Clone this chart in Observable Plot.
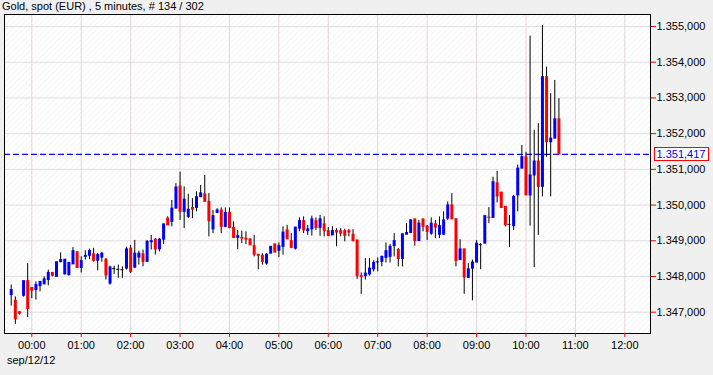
<!DOCTYPE html>
<html><head><meta charset="utf-8">
<script src="https://cdn.jsdelivr.net/npm/d3@7"></script>
<script src="https://cdn.jsdelivr.net/npm/@observablehq/plot@0.6"></script>
<style>
body{margin:0;background:#f0f0f0;}
#wrap{position:relative;width:713px;height:375px;overflow:hidden;font-family:"Liberation Sans",Arial,sans-serif;}
#wrap svg{position:absolute;left:0;top:0;}
.lbl{position:absolute;font-size:11px;line-height:13px;color:#000;white-space:nowrap;z-index:2;}
</style></head><body>
<div id="wrap"><div class="lbl" id="title" style="left:2px;top:-0.5px">Gold, spot (EUR) , 5 minutes, # 134 / 302</div><div class="lbl" id="date" style="left:7px;top:353.5px">sep/12/12</div></div>
<script>
// ---- data (5-minute candles, first at 23:35 on sep/11/12) ----
const firstCandle = "2012-09-11T23:35:00Z";
const stepMinutes = 5;
const open = [1.34748,1.34732,1.34700,1.34746,1.34787,1.34768,1.34762,1.34773,1.34778,1.34790,
1.34810,1.34799,1.34840,1.34806,1.34804,1.34834,1.34868,1.34824,1.34855,1.34858,
1.34862,1.34844,1.34853,1.34847,1.34780,1.34822,1.34820,1.34819,1.34822,1.34878,
1.34825,1.34853,1.34862,1.34841,1.34896,1.34903,1.34876,1.34903,1.34962,1.34953,
1.34990,1.35052,1.34981,1.34967,1.34992,1.34992,1.35022,1.35030,1.35009,1.34932,
1.34978,1.34985,1.34939,1.34978,1.34936,1.34908,1.34908,1.34906,1.34904,1.34885,
1.34861,1.34858,1.34836,1.34864,1.34890,1.34872,1.34883,1.34929,1.34899,1.34878,
1.34934,1.34955,1.34927,1.34932,1.34955,1.34936,1.34946,1.34927,1.34915,1.34927,
1.34927,1.34927,1.34927,1.34917,1.34901,1.34801,1.34801,1.34806,1.34820,1.34841,
1.34841,1.34852,1.34855,1.34885,1.34874,1.34849,1.34917,1.34922,1.34960,1.34899,
1.34960,1.34939,1.34920,1.34946,1.34917,1.34917,1.34962,1.34999,1.34960,1.34846,
1.34876,1.34796,1.34822,1.34839,1.34889,1.34892,1.34965,1.34964,1.35061,1.35035,
1.34995,1.34946,1.34941,1.35027,1.35102,1.35134,1.35027,1.35083,1.35122,1.35051,
1.35358,1.35176,1.35186,1.35240];
const high = [1.34776,1.34743,1.34700,1.34787,1.34836,1.34768,1.34785,1.34785,1.34799,1.34818,
1.34810,1.34840,1.34866,1.34847,1.34838,1.34881,1.34868,1.34855,1.34872,1.34877,
1.34879,1.34865,1.34868,1.34850,1.34829,1.34829,1.34832,1.34827,1.34882,1.34887,
1.34901,1.34871,1.34874,1.34901,1.34915,1.34906,1.34906,1.34946,1.34967,1.35013,
1.35060,1.35092,1.35051,1.35030,1.35018,1.35037,1.35055,1.35083,1.35032,1.34985,
1.34990,1.34992,1.34992,1.34992,1.34953,1.34929,1.34927,1.34925,1.34904,1.34915,
1.34861,1.34864,1.34864,1.34883,1.34890,1.34894,1.34939,1.34943,1.34920,1.34937,
1.34964,1.34967,1.34943,1.34969,1.34964,1.34971,1.34967,1.34937,1.34939,1.34934,
1.34934,1.34932,1.34932,1.34931,1.34901,1.34810,1.34850,1.34850,1.34844,1.34852,
1.34857,1.34894,1.34890,1.34920,1.34878,1.34920,1.34948,1.34959,1.34960,1.34957,
1.34960,1.34943,1.34964,1.34957,1.34967,1.34981,1.35009,1.35032,1.34962,1.34903,
1.34876,1.34836,1.34846,1.34901,1.34892,1.34971,1.34993,1.35078,1.35094,1.35035,
1.34995,1.34971,1.35027,1.35112,1.35167,1.35148,1.35473,1.35209,1.35228,1.35503,
1.35386,1.35312,1.35349,1.35298];
const low = [1.34717,1.34666,1.34692,1.34742,1.34685,1.34738,1.34734,1.34757,1.34778,1.34774,
1.34799,1.34799,1.34839,1.34804,1.34801,1.34834,1.34822,1.34810,1.34846,1.34847,
1.34840,1.34816,1.34840,1.34790,1.34776,1.34806,1.34795,1.34795,1.34818,1.34808,
1.34822,1.34832,1.34827,1.34840,1.34874,1.34860,1.34869,1.34890,1.34943,1.34939,
1.34990,1.34957,1.34934,1.34962,1.34962,1.34981,1.35022,1.35009,1.34911,1.34920,
1.34977,1.34920,1.34937,1.34934,1.34906,1.34875,1.34892,1.34889,1.34887,1.34855,
1.34819,1.34832,1.34832,1.34864,1.34867,1.34853,1.34860,1.34904,1.34878,1.34874,
1.34925,1.34920,1.34915,1.34913,1.34929,1.34913,1.34911,1.34913,1.34915,1.34883,
1.34911,1.34897,1.34911,1.34897,1.34792,1.34750,1.34790,1.34801,1.34813,1.34813,
1.34827,1.34838,1.34838,1.34855,1.34827,1.34827,1.34917,1.34920,1.34885,1.34899,
1.34925,1.34901,1.34915,1.34906,1.34906,1.34915,1.34957,1.34959,1.34827,1.34846,
1.34750,1.34795,1.34732,1.34839,1.34819,1.34892,1.34948,1.34964,1.35006,1.34991,
1.34939,1.34881,1.34929,1.34981,1.35102,1.35027,1.34941,1.34825,1.34915,1.35023,
1.35134,1.35023,1.35186,1.35142];
const close = [1.34762,1.34680,1.34696,1.34787,1.34709,1.34760,1.34776,1.34785,1.34792,1.34810,
1.34802,1.34840,1.34846,1.34847,1.34838,1.34871,1.34824,1.34843,1.34858,1.34871,
1.34844,1.34860,1.34864,1.34803,1.34825,1.34822,1.34820,1.34819,1.34876,1.34813,
1.34864,1.34864,1.34841,1.34897,1.34899,1.34876,1.34903,1.34946,1.34943,1.34990,
1.35049,1.34981,1.35015,1.34987,1.34987,1.35022,1.35033,1.35009,1.34955,1.34969,
1.34985,1.34939,1.34978,1.34936,1.34908,1.34913,1.34906,1.34903,1.34887,1.34861,
1.34858,1.34841,1.34861,1.34883,1.34867,1.34885,1.34923,1.34904,1.34880,1.34937,
1.34955,1.34929,1.34932,1.34960,1.34936,1.34960,1.34927,1.34913,1.34927,1.34923,
1.34920,1.34914,1.34923,1.34899,1.34801,1.34799,1.34808,1.34822,1.34838,1.34841,
1.34855,1.34871,1.34883,1.34899,1.34849,1.34918,1.34922,1.34957,1.34899,1.34948,
1.34939,1.34925,1.34948,1.34937,1.34941,1.34957,1.34999,1.34960,1.34843,1.34876,
1.34797,1.34820,1.34839,1.34892,1.34889,1.34969,1.34964,1.35064,1.35024,1.34992,
1.34943,1.34946,1.35023,1.35102,1.35134,1.35027,1.35083,1.35122,1.35051,1.35358,
1.35176,1.35186,1.35240,1.351417];
const lastPrice = 1.351417;
const yTicks = [1.347,1.348,1.349,1.350,1.351,1.352,1.353,1.354,1.355];
const hourTicks = ["00:00","01:00","02:00","03:00","04:00","05:00","06:00","07:00","08:00","09:00","10:00","11:00","12:00"];
const chartDay = "2012-09-12";
const xDomain = ["2012-09-11T23:26:51Z", "2012-09-12T12:31:12Z"];
const yDomain = [1.346404, 1.355336];

// ---- build table ----
const t0 = new Date(firstCandle).getTime();
const candles = open.map((o, i) => ({
  date: new Date(t0 + i * stepMinutes * 60000),
  open: o, high: high[i], low: low[i], close: close[i]
}));
const hours = hourTicks.map(h => new Date(`${chartDay}T${h}:00Z`));
const fmtPrice = v => { const s = v.toFixed(6); return s.slice(0, 5) + "," + s.slice(5); };
const BLUE = "#0000ff", RED = "#ff0000";
const halfBody = 110000; // ms, half the body width in time

const plot = Plot.plot({
  width: 713, height: 375,
  marginLeft: 4, marginRight: 63, marginTop: 14, marginBottom: 42,
  style: {background: "transparent", fontFamily: "'Liberation Sans', Arial, sans-serif", fontSize: "11px", color: "#000", overflow: "visible"},
  x: {type: "utc", domain: xDomain.map(d => new Date(d))},
  y: {domain: yDomain},
  marks: [
    Plot.frame({fill: "url(#hatch)", stroke: "none"}),
    Plot.ruleY(yTicks, {stroke: "#f3d2da", strokeDasharray: "2,2"}),
    Plot.ruleY(yTicks, {stroke: "#cfe6e3", strokeDasharray: "2,2", strokeDashoffset: 2}),
    Plot.ruleX(hours, {stroke: "#f3d2da", strokeDasharray: "2,2"}),
    Plot.ruleX(hours, {stroke: "#d6d6d6", strokeDasharray: "2,2", strokeDashoffset: 2}),
    Plot.ruleY([lastPrice], {stroke: BLUE, strokeDasharray: "6,3", strokeWidth: 1.2}),
    Plot.ruleX(candles, {x: "date", y1: "low", y2: "high", stroke: "#000", strokeWidth: 1}),
    Plot.ruleX(candles.filter(d => d.close !== d.open), {
      x: "date",
      y1: d => Math.max(d.open, d.close), y2: d => Math.min(d.open, d.close),
      stroke: d => d.close > d.open ? BLUE : RED,
      strokeWidth: 3, insetTop: -0.5, insetBottom: -0.5
    }),
    Plot.ruleY(candles.filter(d => d.close === d.open), {
      x1: d => new Date(+d.date - halfBody), x2: d => new Date(+d.date + halfBody),
      y: "open", stroke: "#000", strokeWidth: 1
    }),
    Plot.frame({stroke: "#000"}),
    Plot.axisY(yTicks, {anchor: "right", tickSize: 5, tickPadding: 1, stroke: RED, fill: "#000", tickFormat: fmtPrice, fontSize: 11}),
    Plot.axisX(hours, {anchor: "bottom", tickSize: 4, tickPadding: 4, stroke: RED, fill: "#000", tickFormat: d3.utcFormat("%H:%M"), fontSize: 11}),
    Plot.text([lastPrice], {y: d => d, frameAnchor: "right", dx: 6, textAnchor: "start", fill: BLUE, text: fmtPrice, fontSize: 11})
  ]
});

// hatch pattern for plot background
const svg = d3.select(plot);
const defs = svg.insert("defs", ":first-child");
const pat = defs.append("pattern").attr("id", "hatch").attr("patternUnits", "userSpaceOnUse")
  .attr("width", 4).attr("height", 4).attr("patternTransform", "rotate(45)");
pat.append("rect").attr("width", 4).attr("height", 4).attr("fill", "#ffffff");
pat.append("line").attr("x1", 0).attr("y1", 0).attr("x2", 0).attr("y2", 4).attr("stroke", "#f2f2f2").attr("stroke-width", 1.5);

const wrap = document.getElementById("wrap");
wrap.insertBefore(plot, wrap.firstChild);

// box around the last price label, placed in root SVG coordinates
const want = fmtPrice(lastPrice);
const lbl = Array.from(plot.querySelectorAll("text")).find(t => t.textContent === want);
if (lbl) {
  const sb = plot.getBoundingClientRect();
  const b = lbl.getBoundingClientRect();
  const x0 = Math.round(b.left - sb.left) - 2.5;
  const yc = (b.top + b.bottom) / 2 - sb.top;
  const r = document.createElementNS("http://www.w3.org/2000/svg", "rect");
  r.setAttribute("x", x0);
  r.setAttribute("y", Math.round(yc - 6.5) + 0.5);
  r.setAttribute("width", Math.round(b.width) + 5);
  r.setAttribute("height", 13);
  r.setAttribute("fill", "#fff");
  r.setAttribute("stroke", RED);
  r.setAttribute("stroke-width", 1);
  plot.appendChild(r);
  const g = lbl.closest("g") || lbl;
  plot.appendChild(g);
}
</script>
</body></html>
